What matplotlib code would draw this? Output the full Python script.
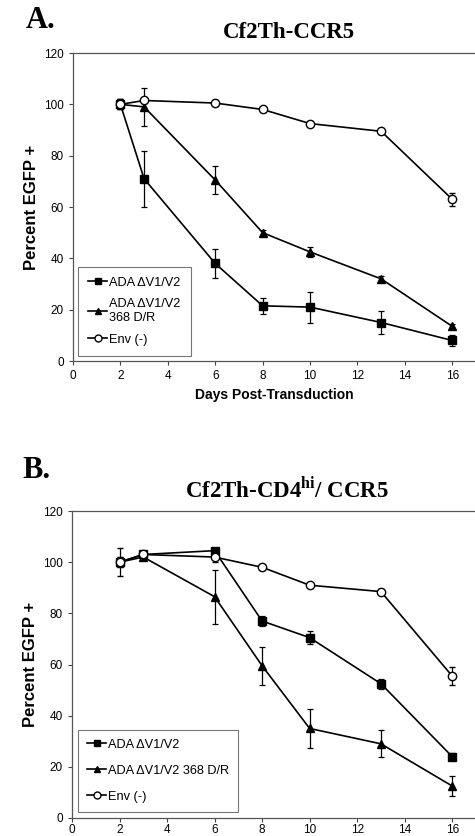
import matplotlib
matplotlib.use("Agg")
import matplotlib.pyplot as plt
from matplotlib.lines import Line2D

plt.rcParams["mathtext.fontset"] = "custom"
plt.rcParams["mathtext.rm"] = "Liberation Serif:bold"
plt.rcParams["mathtext.bf"] = "Liberation Serif:bold"

days = [2, 3, 6, 8, 10, 13, 16]

# Panel A: Cf2Th-CCR5
a_sq = [100, 71, 38, 21.5, 21, 15, 8]
a_sq_err = [2, 11, 5.5, 3, 6, 4.6, 2]
a_tri = [100, 99, 70.5, 50, 42.5, 32, 13.5]
a_tri_err = [2, 7.5, 5.5, 1, 2, 1, 1]
a_circ = [100, 101.5, 100.5, 98, 92.5, 89.5, 63]
a_circ_err = [2, 1, 1, 1, 1, 1, 2.5]

# Panel B: Cf2Th-CD4hi/CCR5
b_sq = [100, 103, 104.5, 77, 70.5, 52.5, 24]
b_sq_err = [2, 1, 1, 2, 2.5, 2, 1.5]
b_tri = [100, 102, 86.5, 59.5, 35, 29, 12.5]
b_tri_err = [2, 1, 10.5, 7.5, 7.5, 5.3, 4]
b_circ = [100, 103, 102, 98, 91, 88.5, 55.5]
b_circ_err = [5.5, 1, 2, 1, 1, 1, 3.7]

xticks = [0, 2, 4, 6, 8, 10, 12, 14, 16]
yticks = [0, 20, 40, 60, 80, 100, 120]

sans = "Liberation Sans"
serif = "Liberation Serif"

fig = plt.figure(figsize=(4.75, 8.36), dpi=100)

def panel(rect, sq, sqe, tri, trie, circ, circe, labels, leg_anchor, xlabel, xpad,
          lspace, bpad):
    ax = fig.add_axes(rect)
    kw = dict(color="black", lw=1.2, capsize=2, elinewidth=0.9, capthick=0.9)
    ax.errorbar(days, sq, yerr=sqe, marker="s", ms=6, mfc="black", mec="black", **kw)
    ax.errorbar(days, tri, yerr=trie, marker="^", ms=6, mfc="black", mec="black", **kw)
    ax.errorbar(days, circ, yerr=circe, marker="o", ms=6, mfc="white", mec="black",
                mew=1.0, **kw)
    ax.set_xlim(0, 16.96)
    ax.set_ylim(0, 120)
    ax.set_xticks(xticks)
    ax.set_yticks(yticks)
    ax.tick_params(direction="out", length=3, width=0.8, color="#444444",
                   labelsize=8.5)
    ax.tick_params(axis="x", pad=xpad)
    for lab in ax.get_xticklabels() + ax.get_yticklabels():
        lab.set_fontfamily(sans)
    ax.spines["right"].set_visible(False)
    for s in ["left", "bottom", "top"]:
        ax.spines[s].set_color("#555555")
        ax.spines[s].set_linewidth(0.9)
    ax.set_ylabel("Percent EGFP +", fontsize=12, fontweight="bold",
                  fontfamily=sans, labelpad=4)
    if xlabel:
        ax.set_xlabel(xlabel, fontsize=10, fontweight="bold", fontfamily=sans,
                      labelpad=4)
    handles = [
        Line2D([], [], color="black", lw=1.2, marker="s", ms=5, mfc="black"),
        Line2D([], [], color="black", lw=1.2, marker="^", ms=5, mfc="black"),
        Line2D([], [], color="black", lw=1.2, marker="o", ms=5, mfc="white"),
    ]
    leg = ax.legend(handles, labels, loc="lower left", bbox_to_anchor=leg_anchor,
                    borderaxespad=0, frameon=True, fancybox=False,
                    edgecolor="#555555", prop={"family": sans, "size": 9.2},
                    handlelength=1.5, handletextpad=0.15, labelspacing=lspace,
                    borderpad=bpad)
    leg.get_frame().set_linewidth(0.8)
    return ax

axA = panel([73 / 475, 1 - 361 / 836, 1 - 73 / 475, 308 / 836],
            a_sq, a_sq_err, a_tri, a_tri_err, a_circ, a_circ_err,
            ["ADA \u0394V1/V2", "ADA \u0394V1/V2\n368 D/R", "Env (-)"],
            (0.012, 0.016), "Days Post-Transduction", 3.5, 0.75, 0.8)
axB = panel([72 / 475, 1 - 818 / 836, 1 - 72 / 475, 307 / 836],
            b_sq, b_sq_err, b_tri, b_tri_err, b_circ, b_circ_err,
            ["ADA \u0394V1/V2", "ADA \u0394V1/V2 368 D/R", "Env (-)"],
            (0.015, 0.02), None, 1.5, 1.1, 0.7)

fig.text(26 / 475, 1 - 28 / 836, "A.", fontsize=22, fontweight="bold",
         fontfamily=serif, ha="left", va="baseline")
fig.text(289 / 475, 1 - 33 / 836, "Cf2Th-CCR5", fontsize=16.5, fontweight="bold",
         fontfamily=serif, ha="center", va="center")
fig.text(22 / 475, 1 - 478 / 836, "B.", fontsize=22, fontweight="bold",
         fontfamily=serif, ha="left", va="baseline")
fig.text(287 / 475, 1 - 489 / 836, r"Cf2Th-CD4$^{\mathrm{hi}}$/ CCR5", fontsize=16.5,
         fontweight="bold", fontfamily=serif, ha="center", va="center")

fig.savefig("out.png", dpi=100)
